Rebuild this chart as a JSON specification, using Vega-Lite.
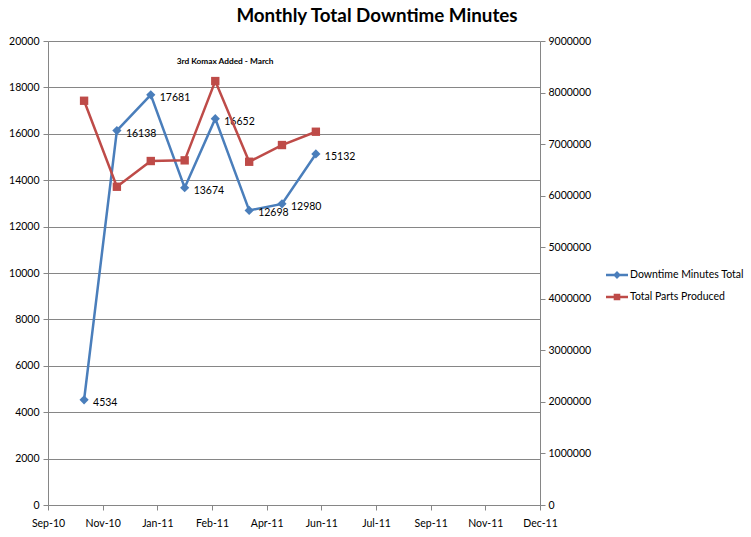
{
  "$schema": "https://vega.github.io/schema/vega-lite/v6.json",
  "width": 492,
  "height": 464,
  "autosize": "none",
  "padding": {"left": 48, "top": 41, "right": 211, "bottom": 32},
  "background": "white",
  "config": {
    "view": {"stroke": null},
    "font": "Lato",
    "axis": {"labelFont": "Lato", "labelFontSize": 10.5, "labelColor": "#000000", "domainColor": "#868686", "tickColor": "#868686", "tickSize": 5, "title": null}
  },
  "title": {
    "text": "Monthly Total Downtime Minutes",
    "font": "Lato",
    "fontSize": 18.8,
    "fontWeight": "bold",
    "color": "#000000",
    "anchor": "middle",
    "dx": 83,
    "offset": 10
  },
  "datasets": {
    "main": [
      {"date": "2010-11-01", "downtime": 4534, "parts": 7841000},
      {"date": "2010-12-01", "downtime": 16138, "parts": 6173000},
      {"date": "2011-01-01", "downtime": 17681, "parts": 6672000},
      {"date": "2011-02-01", "downtime": 13674, "parts": 6685000},
      {"date": "2011-03-01", "downtime": 16652, "parts": 8223000},
      {"date": "2011-04-01", "downtime": 12698, "parts": 6658000},
      {"date": "2011-05-01", "downtime": 12980, "parts": 6982000},
      {"date": "2011-06-01", "downtime": 15132, "parts": 7240000}
    ],
    "note": [
      {"date": "2011-03-10", "downtime": 19100, "text": "3rd Komax Added - March"}
    ],
    "legend": [
      {"series": "Downtime Minutes Total"},
      {"series": "Total Parts Produced"}
    ]
  },
  "data": {"name": "main"},
  "encoding": {
    "x": {
      "field": "date",
      "type": "temporal",
      "scale": {"type": "utc", "domain": [{"year": 2010, "month": 9, "date": 29, "utc": true}, {"year": 2011, "month": 12, "date": 23, "utc": true}]},
      "axis": {
        "values": [
          {"year": 2010, "month": 9, "date": 29, "utc": true},
          {"year": 2010, "month": 11, "date": 18, "utc": true},
          {"year": 2011, "month": 1, "date": 7, "utc": true},
          {"year": 2011, "month": 2, "date": 26, "utc": true},
          {"year": 2011, "month": 4, "date": 17, "utc": true},
          {"year": 2011, "month": 6, "date": 6, "utc": true},
          {"year": 2011, "month": 7, "date": 26, "utc": true},
          {"year": 2011, "month": 9, "date": 14, "utc": true},
          {"year": 2011, "month": 11, "date": 3, "utc": true},
          {"year": 2011, "month": 12, "date": 23, "utc": true}
        ],
        "labelExpr": "utcFormat(datum.value, '%b-%y')",
        "grid": false,
        "labelPadding": 8,
        "labelOverlap": false,
        "labelFlush": false
      }
    }
  },
  "layer": [
    {
      "encoding": {
        "y": {
          "field": "downtime",
          "type": "quantitative",
          "scale": {"domain": [0, 20000], "nice": false, "zero": true},
          "axis": {
            "values": [0, 2000, 4000, 6000, 8000, 10000, 12000, 14000, 16000, 18000, 20000],
            "format": "d",
            "grid": true,
            "gridColor": "#868686",
            "gridWidth": 1,
            "labelPadding": 4
          }
        }
      },
      "layer": [
        {"mark": {"type": "line", "color": "#4A7EBB", "strokeWidth": 2.5}},
        {"mark": {"type": "point", "shape": "diamond", "filled": true, "opacity": 1, "size": 85, "color": "#4A7EBB"}},
        {"mark": {"type": "text", "align": "left", "baseline": "middle", "dx": 9, "dy": 3, "fontSize": 10.5, "font": "Lato", "color": "#000000"}, "encoding": {"text": {"field": "downtime", "type": "quantitative", "format": "d"}}},
        {"data": {"name": "note"}, "mark": {"type": "text", "align": "center", "baseline": "middle", "fontSize": 8.3, "fontWeight": "bold", "font": "Lato", "color": "#000000"}, "encoding": {"text": {"field": "text", "type": "nominal"}}}
      ]
    },
    {
      "encoding": {
        "y": {
          "field": "parts",
          "type": "quantitative",
          "scale": {"domain": [0, 9000000], "nice": false, "zero": true},
          "axis": {
            "orient": "right",
            "values": [0, 1000000, 2000000, 3000000, 4000000, 5000000, 6000000, 7000000, 8000000, 9000000],
            "format": "d",
            "grid": false,
            "labelPadding": 3
          }
        }
      },
      "layer": [
        {"mark": {"type": "line", "color": "#BE4B48", "strokeWidth": 2.5}},
        {"mark": {"type": "point", "shape": "square", "filled": true, "opacity": 1, "size": 70, "color": "#BE4B48"}}
      ]
    },
    {
      "data": {"name": "legend"},
      "transform": [{"filter": "false"}],
      "mark": {"type": "point", "filled": true, "opacity": 1, "size": 484},
      "encoding": {
        "x": null,
        "color": {
          "field": "series",
          "type": "nominal",
          "scale": {"domain": ["Downtime Minutes Total", "Total Parts Produced"], "range": ["#4A7EBB", "#BE4B48"]},
          "legend": {"orient": "none", "legendX": 558, "legendY": 223, "title": null, "labelFont": "Lato", "labelFontSize": 10.5, "labelColor": "#000000", "labelOffset": 2, "rowPadding": 5, "symbolSize": 484, "symbolStrokeWidth": 0}
        },
        "shape": {
          "field": "series",
          "type": "nominal",
          "scale": {"domain": ["Downtime Minutes Total", "Total Parts Produced"], "range": ["M-1,-0.11L1,-0.11L1,0.11L-1,0.11Z M0,-0.36L0.36,0L0,0.36L-0.36,0Z", "M-1,-0.11L1,-0.11L1,0.11L-1,0.11Z M-0.3,-0.3L0.3,-0.3L0.3,0.3L-0.3,0.3Z"]},
          "legend": {"orient": "none", "legendX": 558, "legendY": 223, "title": null, "labelFont": "Lato", "labelFontSize": 10.5, "labelColor": "#000000", "labelOffset": 2, "rowPadding": 5, "symbolSize": 484, "symbolStrokeWidth": 0}
        }
      }
    }
  ],
  "resolve": {"scale": {"y": "independent"}}
}
